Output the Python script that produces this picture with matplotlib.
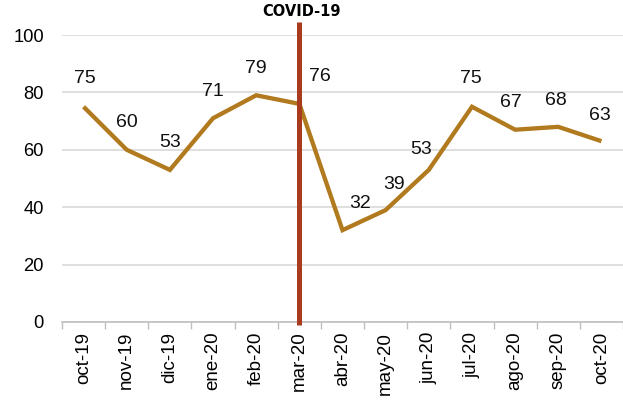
import matplotlib
matplotlib.use("Agg")
import matplotlib.pyplot as plt
from matplotlib.ticker import FixedLocator, NullFormatter

categories = ["oct-19", "nov-19", "dic-19", "ene-20", "feb-20", "mar-20", "abr-20",
              "may-20", "jun-20", "jul-20", "ago-20", "sep-20", "oct-20"]
values = [75, 60, 53, 71, 79, 76, 32, 39, 53, 75, 67, 68, 63]
y_ticks = [0, 20, 40, 60, 80, 100]
event_label = "COVID-19"
event_category = "mar-20"

# label offsets in pixels (dx, dy) relative to each point
label_offsets = [(1, 28), (0, 27), (0, 27), (0, 27), (0, 27), (21, 27), (18, 27),
                 (8, 26), (-8, 20), (-1, 28), (-4, 27), (-2, 26), (-2, 26)]

plt.rcParams['font.family'] = ['Liberation Sans', 'DejaVu Sans']

fig = plt.figure(figsize=(6.23, 4.00), dpi=100)
ax = fig.add_axes([62/623, 1 - 322/400, 1 - 62/623, (322 - 35)/400])

x = list(range(len(categories)))
ax.plot(x, values, color="#B27A1E", linewidth=3.1, solid_joinstyle="miter",
        solid_capstyle="butt", zorder=3)

ex = categories.index(event_category)
ax.plot([ex, ex], [-1.0, 104.5], color="#A83A1E", linewidth=3.6, clip_on=False,
        zorder=4, solid_capstyle="butt")
ax.text(ex + 0.05, 108.2, event_label, ha="center", va="center", fontsize=10.5,
        fontweight="bold", family=["Liberation Sans Narrow", "DejaVu Sans"])

for xi, v, (dx, dy) in zip(x, values, label_offsets):
    ax.annotate(str(v), (xi, v), xytext=(dx * 0.72, dy * 0.72), textcoords="offset points",
                ha="center", va="center", fontsize=14, color="#111111", zorder=5)

ax.set_xlim(-0.5, len(categories) - 0.5)
ax.set_ylim(0, 100)
ax.set_yticks(y_ticks)
ax.set_yticklabels([str(t) for t in y_ticks], fontsize=13.2)
ax.tick_params(axis="y", length=0, pad=13)
ax.yaxis.grid(True, color="#D9D9D9", linewidth=1.2)
ax.set_axisbelow(True)

ax.set_xticks(x)
ax.set_xticklabels(categories, rotation=90, fontsize=13.5)
ax.tick_params(axis="x", which="major", length=0, pad=7)
ax.xaxis.set_minor_locator(FixedLocator([i - 0.5 for i in range(len(categories) + 1)]))
ax.xaxis.set_minor_formatter(NullFormatter())
ax.tick_params(axis="x", which="minor", length=5, width=1, color="#BFBFBF", direction="out")

for s in ["top", "right", "left"]:
    ax.spines[s].set_visible(False)
ax.spines["bottom"].set_color("#BFBFBF")
ax.spines["bottom"].set_linewidth(1.2)

fig.savefig("out.png", dpi=100)
